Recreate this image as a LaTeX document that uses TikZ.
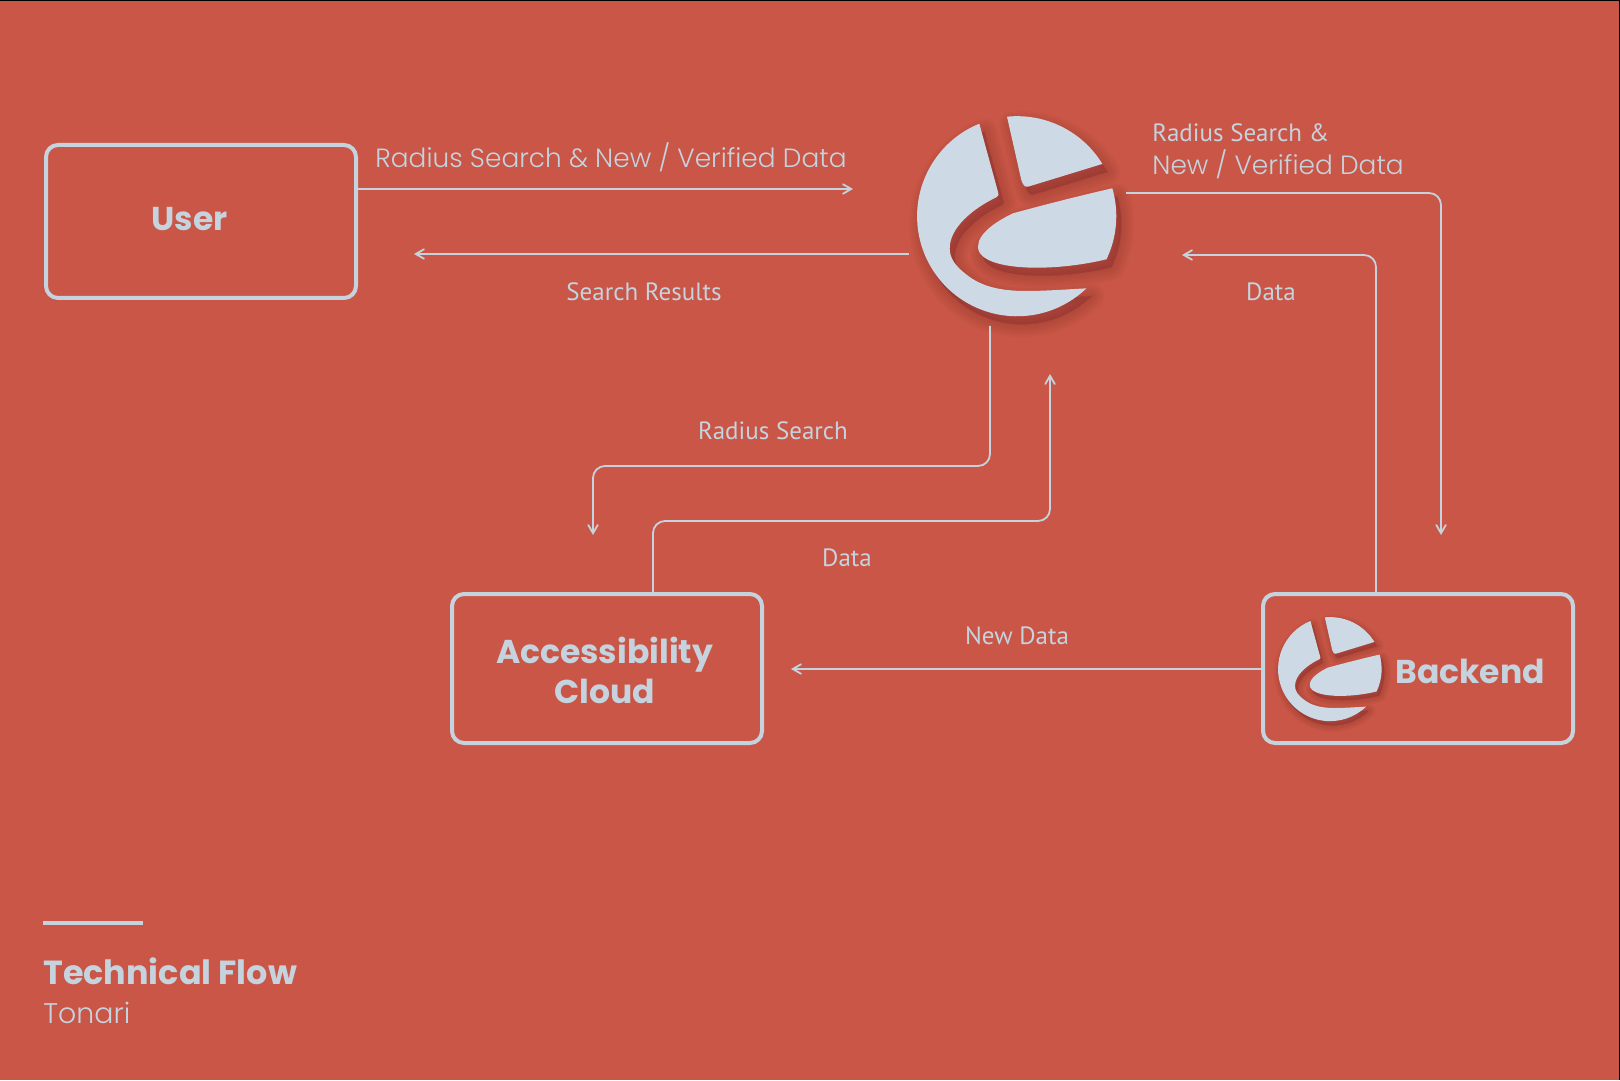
\documentclass[tikz,border=0pt]{standalone}
\usepackage{fontspec}
\setmainfont{Poppins}
\newfontfamily\labelfont{PT Sans}
\usetikzlibrary{arrows}
\definecolor{bgred}{HTML}{C95646}
\definecolor{iceblue}{HTML}{C5D3DE}
\definecolor{logoblue}{HTML}{CDD9E5}
\tikzstyle{block} = [rectangle, rounded corners=6pt, draw=iceblue, line width=2pt, inner sep=0pt]
\tikzstyle{blocktext} = [text=iceblue, align=center, inner sep=0pt, font=\fontsize{16.5}{20}\selectfont\bfseries]
\tikzstyle{flow} = [draw=iceblue, line width=0.9pt, rounded corners=6pt, ->, >=angle 60]
\tikzstyle{caption} = [text=iceblue, font=\labelfont\fontsize{12.5}{15}\selectfont, inner sep=0pt]
\tikzstyle{headline} = [text=iceblue, font=\fontsize{13.2}{16}\selectfont\fontspec{Poppins Light}, inner sep=0pt]
\newcommand{\logoleft}{(-0.377,0.923) arc (112.2:313.9:1) .. controls (0.4,-0.74) and (0.25,-0.75) .. (0.093,-0.75) .. controls (-0.15,-0.75) and (-0.35,-0.71) .. (-0.5,-0.59) .. controls (-0.62,-0.5) and (-0.673,-0.42) .. (-0.673,-0.323) .. controls (-0.673,-0.12) and (-0.45,0.07) .. (-0.207,0.187) .. controls (-0.18,0.2) and (-0.18,0.22) .. (-0.19,0.24) -- cycle}
\newcommand{\logotop}{(-0.1,0.993) arc (95.8:31.5:1) -- (0.11,0.293) .. controls (0.08,0.285) and (0.06,0.31) .. (0.043,0.36) -- cycle}
\newcommand{\logoright}{(0.953,0.277) arc (16.2:-25.5:1) .. controls (0.7,-0.48) and (0.45,-0.517) .. (0.193,-0.517) .. controls (-0.1,-0.517) and (-0.39,-0.46) .. (-0.39,-0.307) .. controls (-0.39,-0.17) and (-0.2,-0.05) .. (-0.04,0.027) .. controls (0.3,0.12) and (0.7,0.22) .. (0.953,0.277) -- cycle}
% logo: centre in px, radius in px
\newcommand{\logomark}[3]{
  \begin{scope}[shift={(#1,#2)}, x=#3*0.5pt, y=-#3*0.5pt, yscale=-1]
    \foreach \w in {0.26,0.22,0.18,0.14,0.10,0.06,0.02} {
      \fill[black, fill opacity=0.016, shift={(0.05,-0.08)}, draw=black, draw opacity=0.016, line width=\w*#3*0.5pt, line join=round] \logoleft \logotop \logoright;
    }
    \fill[logoblue] \logoleft \logotop \logoright;
  \end{scope}
}

\begin{document}
\begin{tikzpicture}[x=0.5pt, y=-0.5pt]

\fill[bgred] (0,0) rectangle (1620,1080);
\useasboundingbox (0,0) rectangle (1620,1080);
\fill[black] (0,0) rectangle (1620,1);
\fill[black] (1619,0) rectangle (1620,1080);

% Boxes
\node (user) [block, minimum width=155pt, minimum height=76.5pt] at (201,221.5) {};
\node (usertext) [blocktext] at (189.5,219) {User};
\node (cloud) [block, minimum width=155pt, minimum height=74.5pt] at (607,668.5) {};
\node (cloudtext) [blocktext] at (604.5,670) {Accessibility\\Cloud};
\node (backend) [block, minimum width=155pt, minimum height=74.5pt] at (1418,668.5) {};
\node (backendtext) [blocktext] at (1470,671) {Backend};

% Logos
\logomark{1017}{216}{100}
\logomark{1330}{669}{52}

% Free ends
\coordinate (huba) at (853,189);
\coordinate (userb) at (414,254);
\coordinate (hubw) at (909,254);
\coordinate (hubs) at (990,326);
\coordinate (clouda) at (593,535);
\coordinate (hubn) at (1050,374);
\coordinate (hube) at (1126,193);
\coordinate (backa) at (1441,535);
\coordinate (hubr) at (1182,255);
\coordinate (clouds) at (791,669);

% Arrows
\draw [flow] (user.east |- huba) -- (huba);
\draw [flow] (hubw) -- (userb);
\draw [flow] (hubs) |- (593,466) -- (clouda);
\draw [flow] (cloud.north -| 653,0) |- (1050,521) -- (hubn);
\draw [flow] (hube) -| (backa);
\draw [flow] (backend.north -| 1376,0) |- (hubr);
\draw [flow] (backend.west |- clouds) -- (clouds);

% Labels
\node (l1) [headline, anchor=west] at (375,157) {Radius Search \& New / Verified Data};
\node (l2) [caption] at (644,292) {Search Results};
\node (l3) [caption, anchor=west] at (1152,133) {Radius Search \&};
\node (l4) [headline, anchor=west] at (1152,164) {New / Verified Data};
\node (l5) [caption] at (1271,292) {Data};
\node (l6) [caption] at (773,431) {Radius Search};
\node (l7) [caption] at (847,558) {Data};
\node (l8) [caption] at (1017,636) {New Data};

% Title
\coordinate (rulea) at (43,923);
\coordinate (ruleb) at (143,923);
\draw [iceblue, line width=2pt] (rulea) -- (ruleb);
\node (title) [blocktext, anchor=west, font=\fontsize{16.7}{20}\selectfont\bfseries] at (43,971) {Technical Flow};
\node (subtitle) [caption, anchor=west, font=\fontsize{14.2}{17}\selectfont\fontspec{Poppins Light}] at (43,1013) {Tonari};

\end{tikzpicture}
\end{document}
